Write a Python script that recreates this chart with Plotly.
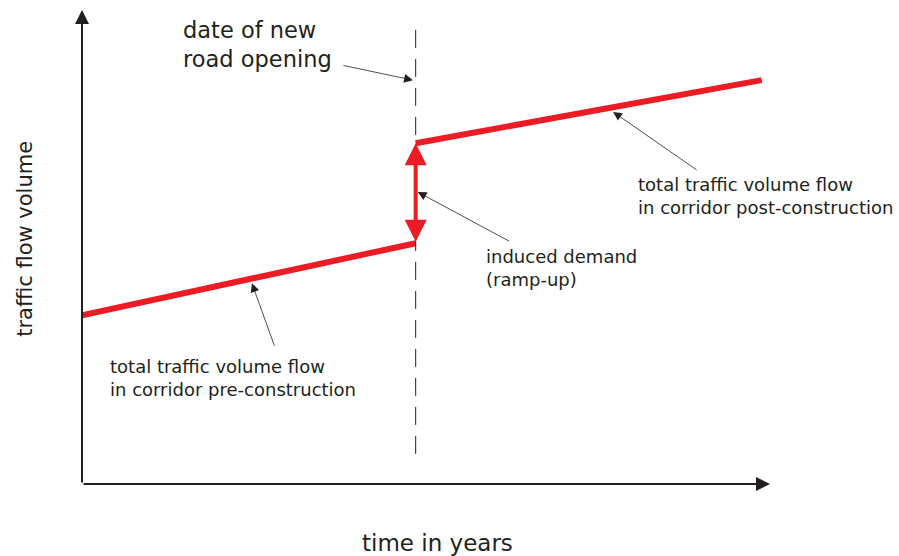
import plotly.graph_objects as go

# schematic: traffic volume before / after a new road opens
OPENING = 4.85

pre_x = [0, OPENING]
pre_y = [3.56, 5.08]
post_x = [OPENING, 9.88]
post_y = [7.19, 8.52]

RED = '#ED1C24'
INK = '#231F20'
FONT = 'DejaVu Sans'

fig = go.Figure()
fig.add_trace(go.Scatter(x=pre_x, y=pre_y, mode='lines', line=dict(color=RED, width=6), hoverinfo='skip'))
fig.add_trace(go.Scatter(x=post_x, y=post_y, mode='lines', line=dict(color=RED, width=6), hoverinfo='skip'))

# date of opening
fig.add_shape(type='line', x0=OPENING, x1=OPENING, y0=9.58, y1=0.53,
              line=dict(color=INK, width=1, dash='18px,11px'))

# induced demand jump
fig.add_annotation(x=OPENING, y=post_y[0], ax=OPENING, ay=pre_y[1], axref='x', ayref='y',
                   text='', showarrow=True, arrowside='end+start', arrowhead=2, startarrowhead=2,
                   arrowsize=1.1, startarrowsize=1.1, arrowwidth=4, arrowcolor=RED)

# axes with arrows
fig.add_annotation(x=1, y=0, xref='paper', yref='paper', ax=-688, ay=0, text='', showarrow=True,
                   arrowhead=2, arrowsize=1.4, arrowwidth=2, arrowcolor=INK)
fig.add_annotation(x=0, y=1, xref='paper', yref='paper', ax=0, ay=474, text='', showarrow=True,
                   arrowhead=2, arrowsize=1.4, arrowwidth=2, arrowcolor=INK)


def pointer(x, y, ax, ay):
    fig.add_annotation(x=x, y=y, ax=ax, ay=ay, text='', showarrow=True, arrowhead=2,
                       arrowsize=2.2, arrowwidth=0.8, arrowcolor=INK)


def slope_y(xs, ys, x):
    return ys[0] + (ys[1] - ys[0]) * (x - xs[0]) / (xs[1] - xs[0])


pointer(OPENING - 0.04, 8.52, -71, -15)
pointer(OPENING + 0.03, 6.16, 93, 50)
pointer(7.72, slope_y(post_x, post_y, 7.72) - 0.1, 85, 59)
pointer(2.47, slope_y(pre_x, pre_y, 2.47) - 0.1, 23, 64)


def label(x, y, txt, size):
    fig.add_annotation(x=x, y=y, text=txt, showarrow=False, xanchor='left', yanchor='top',
                       align='left', font=dict(family=FONT, size=size, color=INK))


label(1.44, 9.89, 'date of new<br>road opening', 22.5)
label(5.84, 5.06, 'induced demand<br>(ramp-up)', 18)
label(8.05, 6.58, 'total traffic volume flow<br>in corridor post-construction', 18)
label(0.378, 2.74, 'total traffic volume flow<br>in corridor pre-construction', 18)

fig.add_annotation(x=0.517, y=-0.093, xref='paper', yref='paper', text='time in years', showarrow=False,
                   xanchor='center', yanchor='top', font=dict(family=FONT, size=23, color=INK))
fig.add_annotation(x=-0.083, y=0.517, xref='paper', yref='paper', text='traffic flow volume', showarrow=False,
                   textangle=-90, xanchor='center', yanchor='middle', font=dict(family=FONT, size=21, color=INK))

fig.update_xaxes(range=[0, 10], visible=False)
fig.update_yaxes(range=[0, 10], visible=False)
fig.update_layout(width=899, height=556, margin=dict(l=82, r=129, t=10, b=72),
                  plot_bgcolor='white', paper_bgcolor='white', showlegend=False)

# drop the default page margin so the 899x556 figure fills the window
fig.write_html("out.html", config={'displayModeBar': False},
               post_script="document.body.style.margin='0';")
